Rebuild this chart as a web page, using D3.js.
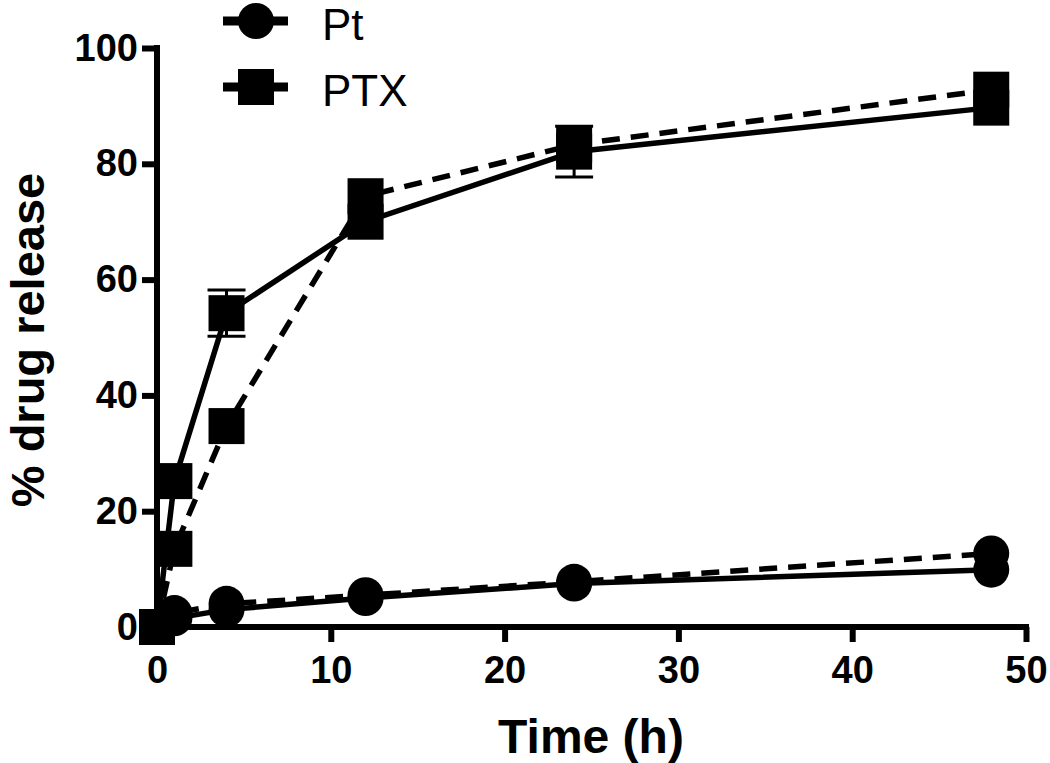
<!DOCTYPE html>
<html>
<head>
<meta charset="utf-8">
<script src="https://cdn.jsdelivr.net/npm/d3@7"></script>
<style>
  html, body { margin: 0; padding: 0; background: #fff; }
  svg { display: block; }
  text { font-family: "Liberation Sans", Arial, sans-serif; fill: #000; }
</style>
</head>
<body>
<svg id="chart" width="1050" height="763"></svg>
<script>
// ---- data ----
const times = [0, 1, 4, 12, 24, 48];
const ptSolid = [0, 1.5, 3.0, 5.0, 7.5, 9.9];
const ptSolidErr = [0, 0, 0, 0, 0, 0];
const ptDashed = [0, 2.4, 4.0, 5.5, 7.8, 12.7];
const ptDashedErr = [0, 0, 0, 0, 0, 0];
const ptxSolid = [0, 25.2, 54.2, 70.0, 82.1, 89.7];
const ptxSolidErr = [0, 0, 4.0, 0, 4.4, 0];
const ptxDashed = [0, 13.5, 34.7, 74.4, 83.3, 92.8];
const ptxDashedErr = [0, 0, 0, 0, 0, 0];
const xTicks = [0, 10, 20, 30, 40, 50];
const yTicks = [0, 20, 40, 60, 80, 100];
const legendLabels = ["Pt", "PTX"];
const xTitle = "Time (h)";
const yTitle = "% drug release";

// ---- layout ----
const svg = d3.select("#chart");
const x = d3.scaleLinear().domain([0, 50]).range([157, 1026]);
const y = d3.scaleLinear().domain([0, 100]).range([627, 48]);
const MS = 36; // marker size

const series = [
  { vals: ptSolid, err: ptSolidErr, shape: "circle", dash: null },
  { vals: ptDashed, err: ptDashedErr, shape: "circle", dash: "18,11" },
  { vals: ptxSolid, err: ptxSolidErr, shape: "square", dash: null },
  { vals: ptxDashed, err: ptxDashedErr, shape: "square", dash: "18,11" }
];

// ---- axes ----
const yAxis = d3.axisLeft(y).tickValues(yTicks).tickSize(15).tickPadding(4);
const xAxis = d3.axisBottom(x).tickValues(xTicks).tickSize(15).tickPadding(14);

const gy = svg.append("g").attr("transform", `translate(${x(0)},0)`).call(yAxis);
const gx = svg.append("g").attr("transform", `translate(0,${y(0)})`).call(xAxis);
[gx, gy].forEach(g => {
  g.select(".domain").attr("stroke", "#000").attr("stroke-width", 6).attr("stroke-linecap", "square");
  g.selectAll(".tick line").attr("stroke", "#000").attr("stroke-width", 6);
  g.selectAll(".tick text").attr("font-size", 38).attr("font-weight", "bold")
    .attr("font-family", "'Liberation Sans', Arial, sans-serif").attr("fill", "#000");
});
gy.select(".domain").attr("d", `M0,${y(0)}V${y(100)}`);
gx.select(".domain").attr("d", `M${x(0)},0H${x(50)}`);

// ---- lines ----
const line = d3.line().x((d, i) => x(times[i])).y(d => y(d));
series.forEach(s => {
  svg.append("path").datum(s.vals)
    .attr("d", line)
    .attr("fill", "none")
    .attr("stroke", "#000")
    .attr("stroke-width", 5.5)
    .attr("stroke-dasharray", s.dash);
});

// ---- error bars + markers ----
series.forEach(s => {
  const g = svg.append("g");
  s.vals.forEach((v, i) => {
    const cx = x(times[i]);
    const e = s.err[i];
    if (e > 0) {
      g.append("line").attr("x1", cx).attr("x2", cx).attr("y1", y(v - e)).attr("y2", y(v + e))
        .attr("stroke", "#000").attr("stroke-width", 3);
      [v - e, v + e].forEach(ev => {
        g.append("line").attr("x1", cx - 19).attr("x2", cx + 19).attr("y1", y(ev)).attr("y2", y(ev))
          .attr("stroke", "#000").attr("stroke-width", 3);
      });
    }
  });
  s.vals.forEach((v, i) => {
    const cx = x(times[i]), cy = y(v);
    if (s.shape === "circle") {
      g.append("circle").attr("cx", cx).attr("cy", cy).attr("r", MS / 2).attr("fill", "#000");
    } else {
      g.append("rect").attr("x", cx - MS / 2).attr("y", cy - MS / 2).attr("width", MS).attr("height", MS).attr("fill", "#000");
    }
  });
});

// ---- legend ----
const legend = svg.append("g");
const legY = [21, 87];
legendLabels.forEach((lab, i) => {
  const ly = legY[i];
  legend.append("line").attr("x1", 223).attr("x2", 288).attr("y1", ly).attr("y2", ly)
    .attr("stroke", "#000").attr("stroke-width", 9);
  if (i === 0) {
    legend.append("circle").attr("cx", 256).attr("cy", ly).attr("r", MS / 2).attr("fill", "#000");
  } else {
    legend.append("rect").attr("x", 256 - MS / 2).attr("y", ly - MS / 2).attr("width", MS).attr("height", MS).attr("fill", "#000");
  }
  legend.append("text").attr("x", 322).attr("y", ly + 19).attr("font-size", 44).text(lab);
});

// ---- axis titles ----
svg.append("text").attr("x", 591).attr("y", 753).attr("text-anchor", "middle")
  .attr("font-size", 48).attr("font-weight", "bold").text(xTitle);
svg.append("text").attr("transform", "translate(44,340) rotate(-90)").attr("text-anchor", "middle")
  .attr("font-size", 47).attr("font-weight", "bold").text(yTitle);
</script>
</body>
</html>
